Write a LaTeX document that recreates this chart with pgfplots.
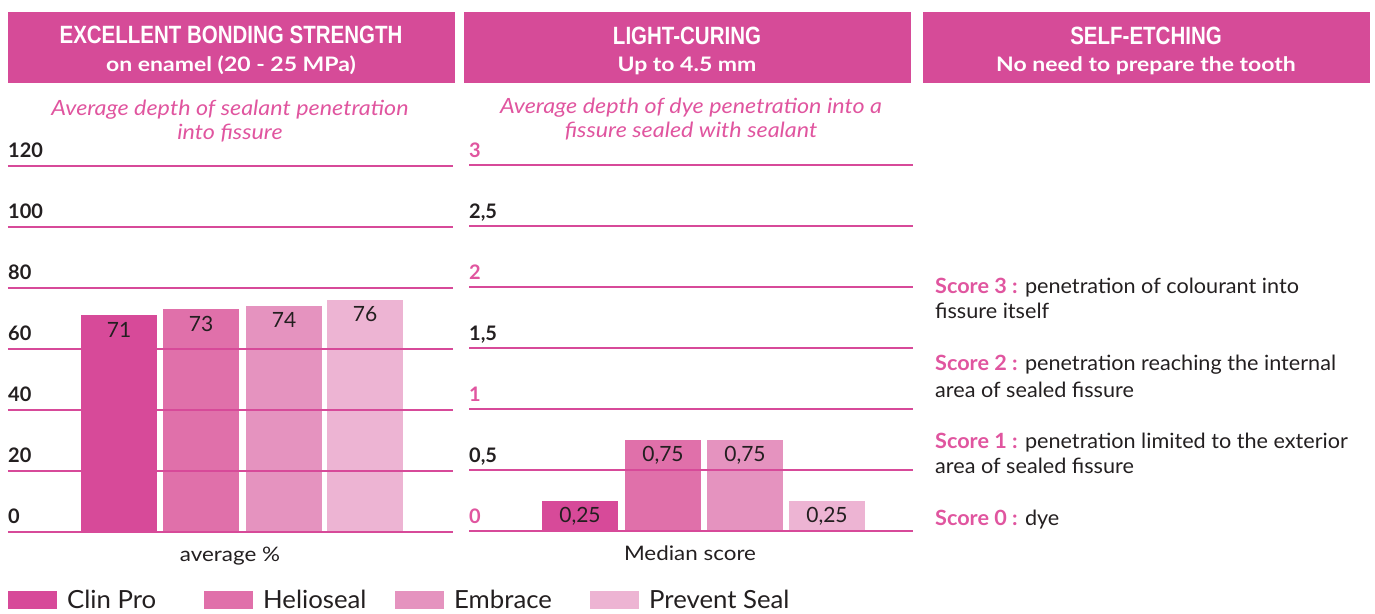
\documentclass[border=0pt]{standalone}
\usepackage{pgfplots}
\pgfplotsset{compat=1.18}
\usepackage{fontspec}
\setmainfont{Lato}
\newfontfamily\condfont[FakeStretch=0.82]{Liberation Sans}
\newfontfamily\latoA[FakeStretch=1.15]{Lato}
\newfontfamily\latoB[FakeStretch=1.11]{Lato}
\newfontfamily\latoC[FakeStretch=1.03]{Lato}
\newfontfamily\latoD[FakeStretch=1.12]{Lato}
\newfontfamily\latoE[FakeStretch=1.03]{Lato}
\definecolor{hdr}{HTML}{D64B98}
\definecolor{cA}{HTML}{D74A99}
\definecolor{cB}{HTML}{E070AA}
\definecolor{cC}{HTML}{E593BF}
\definecolor{cD}{HTML}{EDB4D3}
\definecolor{pk}{HTML}{E0559F}
\definecolor{txt}{HTML}{231F20}
\pgfplotsset{
  panel/.style={
    scale only axis, anchor=south west, clip=false,
    width=445pt, height=366pt,
    xmin=0, xmax=445, ymin=0,
    axis line style={draw=none}, xtick=\empty,
    major tick length=0pt,
    ymajorgrids, major grid style={draw=cA, line width=2pt},
    axis on top,
    yticklabel style={anchor=base west, inner sep=0pt, font=\bfseries\fontsize{20}{20}\selectfont, text=txt},
    every axis plot/.append style={ybar, bar width=76pt, bar shift=0pt, draw=none},
    nodes near coords,
    every node near coord/.append style={anchor=north, yshift=-3pt, font=\fontsize{21}{21}\selectfont, text=txt},
    /pgf/number format/assume math mode=true,
  },
  swatch/.style={legend image code/.code={\fill[##1] (0pt,-9pt) rectangle (49pt,9pt);}},
}
\begin{document}
\begin{tikzpicture}[x=1pt,y=-1pt]
\path[use as bounding box] (0,0) rectangle (1375,613);
% header boxes
\fill[hdr] (8,12) rectangle (455,83);
\fill[hdr] (464,12) rectangle (911,83);
\fill[hdr] (923,12) rectangle (1370,83);
\node[anchor=base, text=white, font=\condfont\bfseries\fontsize{25}{25}\selectfont] at (231,43) {EXCELLENT BONDING STRENGTH};
\node[anchor=base, text=white, font=\latoA\bfseries\fontsize{20}{20}\selectfont] at (231,71) {on enamel (20 - 25 MPa)};
\node[anchor=base, text=white, font=\condfont\bfseries\fontsize{25}{25}\selectfont] at (687,44) {LIGHT-CURING};
\node[anchor=base, text=white, font=\latoA\bfseries\fontsize{20}{20}\selectfont] at (687,71) {Up to 4.5 mm};
\node[anchor=base, text=white, font=\condfont\bfseries\fontsize{25}{25}\selectfont] at (1146,44) {SELF-ETCHING};
\node[anchor=base, text=white, font=\latoA\bfseries\fontsize{20}{20}\selectfont] at (1146,71) {No need to prepare the tooth};
% subtitles
\node[anchor=base, text=pk, font=\latoB\itshape\fontsize{21}{21}\selectfont] at (230,115) {Average depth of sealant penetration};
\node[anchor=base, text=pk, font=\latoB\itshape\fontsize{21}{21}\selectfont] at (230,139) {into fissure};
\node[anchor=base, text=pk, font=\latoB\itshape\fontsize{21}{21}\selectfont] at (691,113) {Average depth of dye penetration into a};
\node[anchor=base, text=pk, font=\latoB\itshape\fontsize{21}{21}\selectfont] at (691,137) {fissure sealed with sealant};

% left chart
\begin{axis}[panel, at={(8pt,-532pt)}, ymax=120, ytick={0,20,...,120},
  yticklabel style={yshift=9pt},
  legend style={at={(axis description cs:0,-0.186)}, anchor=west, draw=none, fill=none,
    inner sep=0pt, legend columns=-1,
    font=\latoE\fontsize{25}{25}\selectfont, text=txt,
    nodes={inner sep=0pt},
    /tikz/every odd column/.append style={column sep=10pt},
    /tikz/every even column/.append style={column sep=0pt}},
]
\addplot[fill=cA, swatch] coordinates {(111,71)};
\addplot[fill=cB, swatch] coordinates {(193,73)};
\addplot[fill=cC, swatch] coordinates {(276,74)};
\addplot[fill=cD, swatch] coordinates {(357,76)};
\legend{{\makebox[137pt][l]{Clin Pro}},{\makebox[132pt][l]{Helioseal}},{\makebox[136pt][l]{Embrace}},{Prevent Seal}}
\end{axis}

% middle chart
\begin{axis}[panel, at={(469pt,-531pt)}, width=444pt, xmax=444, ymax=3,
  ytick={0,0.5,...,3},
  yticklabels={{\color{pk}0},{0,5},{\color{pk}1},{1,5},{\color{pk}2},{2,5},{\color{pk}3}},
  yticklabel style={yshift=8pt},
  /pgf/number format/.cd, fixed, fixed zerofill, precision=2, use comma,
]
\addplot[fill=cA] coordinates {(111,0.25)};
\addplot[fill=cB] coordinates {(194,0.75)};
\addplot[fill=cC] coordinates {(276,0.75)};
\addplot[fill=cD] coordinates {(358,0.25)};
\end{axis}

% axis captions
\node[anchor=base, text=txt, font=\latoD\fontsize{20}{20}\selectfont] at (230,561) {average \%};
\node[anchor=base, text=txt, font=\latoD\fontsize{20}{20}\selectfont] at (690,560) {Median score};

% score explanations
\begin{scope}[every node/.style={anchor=base west, inner sep=0pt, text=txt, font=\latoC\fontsize{21}{21}\selectfont}]
\node at (935,293) {\textcolor{pk}{\bfseries Score 3 :} penetration of colourant into};
\node at (935,318) {fissure itself};
\node at (935,370) {\textcolor{pk}{\bfseries Score 2 :} penetration reaching the internal};
\node at (935,397) {area of sealed fissure};
\node at (935,448) {\textcolor{pk}{\bfseries Score 1 :} penetration limited to the exterior};
\node at (935,473) {area of sealed fissure};
\node at (935,525) {\textcolor{pk}{\bfseries Score 0 :} dye};
\end{scope}
\end{tikzpicture}
\end{document}
